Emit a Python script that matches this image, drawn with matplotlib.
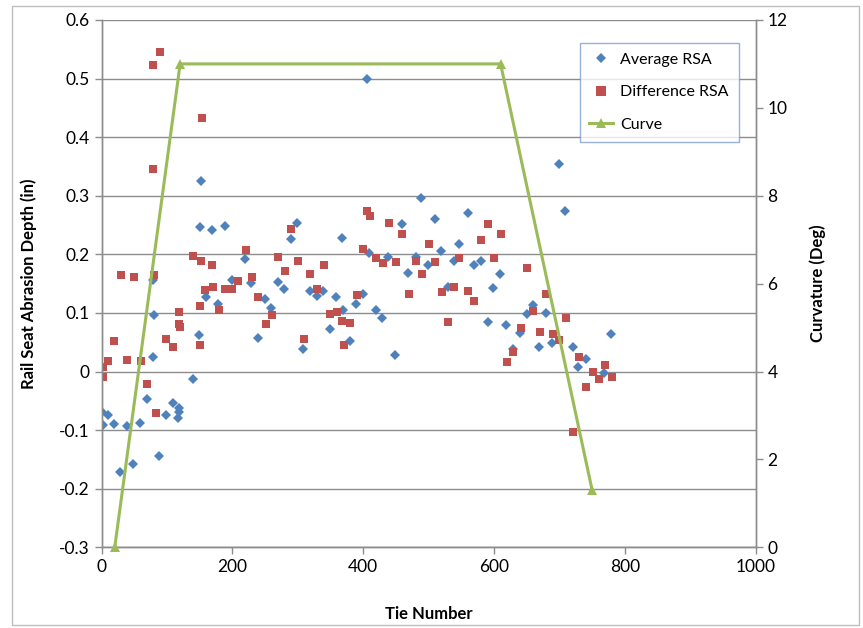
import matplotlib
matplotlib.use("Agg")
import matplotlib.pyplot as plt
from matplotlib.patches import Rectangle
from matplotlib.lines import Line2D

avg_tie = [1, 9, 2, 19, 28, 38, 48, 59, 69, 79, 80, 79, 88, 99, 109, 116, 118, 118, 139, 149,
           151, 152, 159, 168, 178, 189, 199, 219, 229, 239, 249, 259, 270, 279, 289, 299, 308,
           319, 330, 339, 349, 359, 367, 369, 379, 389, 400, 405, 409, 419, 429, 438, 448, 459,
           469, 480, 489, 499, 509, 519, 529, 539, 547, 560, 569, 580, 590, 599, 609, 619, 629,
           639, 650, 660, 669, 679, 688, 699, 709, 720, 729, 740, 768, 779]
avg_rsa = [-0.069, -0.074, -0.091, -0.090, -0.172, -0.093, -0.158, -0.087, -0.047, 0.025, 0.096,
           0.156, -0.144, -0.075, -0.054, -0.079, -0.062, -0.069, -0.013, 0.062, 0.247, 0.325,
           0.128, 0.241, 0.116, 0.249, 0.157, 0.192, 0.151, 0.058, 0.124, 0.109, 0.152, 0.140,
           0.226, 0.254, 0.038, 0.137, 0.129, 0.137, 0.073, 0.127, 0.228, 0.105, 0.052, 0.116,
           0.133, 0.499, 0.203, 0.105, 0.091, 0.195, 0.029, 0.251, 0.169, 0.195, 0.296, 0.182,
           0.260, 0.206, 0.145, 0.189, 0.217, 0.271, 0.181, 0.189, 0.084, 0.143, 0.166, 0.080,
           0.038, 0.066, 0.098, 0.114, 0.042, 0.100, 0.049, 0.354, 0.274, 0.042, 0.008, 0.022,
           -0.002, 0.064]

diff_tie = [2, 2, 10, 19, 30, 39, 49, 60, 70, 78, 79, 80, 83, 89, 99, 109, 118, 118, 120, 140,
            150, 150, 152, 153, 158, 168, 170, 180, 189, 199, 209, 220, 230, 239, 252, 260, 270,
            280, 289, 300, 309, 319, 330, 340, 349, 360, 368, 370, 380, 390, 399, 405, 410, 419,
            430, 440, 450, 460, 470, 480, 490, 500, 509, 520, 530, 539, 547, 560, 570, 580, 590,
            600, 610, 620, 629, 641, 650, 660, 670, 679, 690, 700, 710, 720, 730, 740, 751, 760,
            770, 780]
diff_rsa = [0.007, -0.009, 0.018, 0.052, 0.165, 0.020, 0.161, 0.018, -0.021, 0.523, 0.345,
            0.165, -0.070, 0.545, 0.055, 0.042, 0.101, 0.081, 0.076, 0.198, 0.111, 0.046, 0.188,
            0.433, 0.139, 0.182, 0.145, 0.105, 0.141, 0.141, 0.155, 0.208, 0.162, 0.128, 0.081,
            0.097, 0.196, 0.172, 0.243, 0.189, 0.055, 0.166, 0.140, 0.181, 0.099, 0.101, 0.087,
            0.046, 0.083, 0.131, 0.209, 0.274, 0.265, 0.194, 0.186, 0.253, 0.187, 0.234, 0.133,
            0.189, 0.167, 0.217, 0.187, 0.136, 0.085, 0.144, 0.193, 0.138, 0.121, 0.224, 0.251,
            0.194, 0.235, 0.016, 0.034, 0.075, 0.177, 0.103, 0.068, 0.133, 0.064, 0.054, 0.091,
            -0.104, 0.024, -0.026, -0.001, -0.012, 0.011, -0.009]

curve_tie = [20, 120, 610, 750]
curve_deg = [0, 11, 11, 1.3]

x_ticks = [0, 200, 400, 600, 800, 1000]
y_ticks = [-0.3, -0.2, -0.1, 0, 0.1, 0.2, 0.3, 0.4, 0.5, 0.6]
y_tick_labels = ["-0.3", "-0.2", "-0.1", "0", "0.1", "0.2", "0.3", "0.4", "0.5", "0.6"]
y2_ticks = [0, 2, 4, 6, 8, 10, 12]

BLUE = "#4F81BD"
RED = "#C0504D"
GREEN = "#9BBB59"
GRID = "#8C8C8C"

plt.rcParams["font.family"] = ["Lato", "DejaVu Sans"]

fig = plt.figure(figsize=(8.63, 6.28), dpi=100)
fig.patches.append(Rectangle((0.0135, 0.004), 0.982, 0.987, transform=fig.transFigure,
                             fill=False, edgecolor="#BFBFBF", linewidth=1.0))

ax = fig.add_axes([0.1178, 0.1285, 0.7578, 0.8397])
ax2 = ax.twinx()

ax.set_xlim(0, 1000)
ax.set_ylim(-0.3, 0.6)
ax2.set_ylim(0, 12)

ax.set_xticks(x_ticks)
ax.set_yticks(y_ticks)
ax.set_yticklabels(y_tick_labels)
ax2.set_yticks(y2_ticks)

ax.yaxis.grid(True, color=GRID, linewidth=1.0)
ax.set_axisbelow(True)

for a in (ax, ax2):
    a.spines["top"].set_visible(False)
    for s in ("left", "right", "bottom"):
        a.spines[s].set_color(GRID)
        a.spines[s].set_linewidth(1.0)
    a.tick_params(colors=GRID, labelcolor="black", labelsize=12.5, length=5, width=1.0)

ax.plot(avg_tie, avg_rsa, linestyle="none", marker="D", markersize=4.6,
        color=BLUE, markeredgewidth=0, zorder=3)
ax.plot(diff_tie, diff_rsa, linestyle="none", marker="s", markersize=6.2,
        color=RED, markeredgewidth=0, zorder=3)
ax2.plot(curve_tie, curve_deg, color=GREEN, linewidth=2.2, marker="^",
         markersize=6.5, markeredgewidth=0, zorder=4, clip_on=False)

ax.set_xlabel("Tie Number", fontsize=12, fontweight="bold", labelpad=22)
ax.set_ylabel("Rail Seat Abrasion Depth (in)", fontsize=12, fontweight="bold", labelpad=16)
ax2.set_ylabel("Curvature (Deg)", fontsize=12, fontweight="bold", labelpad=16)

handles = [
    Line2D([], [], linestyle="none", marker="D", markersize=5, color=BLUE, markeredgewidth=0),
    Line2D([], [], linestyle="none", marker="s", markersize=7, color=RED, markeredgewidth=0),
    Line2D([], [], color=GREEN, linewidth=2.2, marker="^", markersize=6.5, markeredgewidth=0),
]
leg = ax2.legend(handles, ["Average RSA", "Difference RSA", "Curve"],
                 loc="upper left", bbox_to_anchor=(0.731, 0.956), borderaxespad=0,
                 fontsize=11.5, frameon=True, fancybox=False, handlelength=1.5,
                 handletextpad=0.45, borderpad=0.6, labelspacing=1.15)
leg.get_frame().set_edgecolor("#7F9FD0")
leg.get_frame().set_linewidth(1.0)

fig.savefig("out.png", dpi=100, facecolor="white")
